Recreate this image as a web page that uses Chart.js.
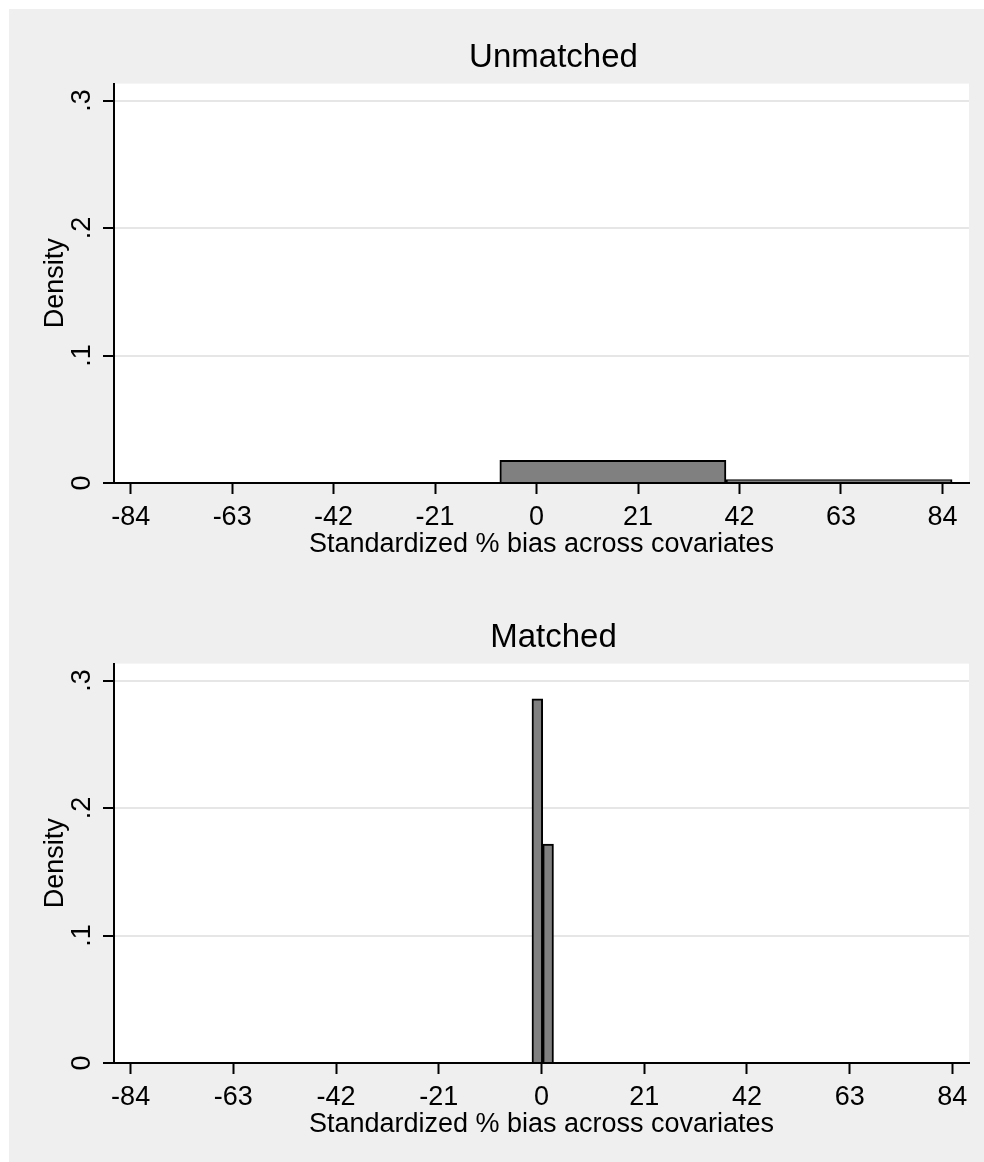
<!DOCTYPE html>
<html>
<head>
<meta charset="utf-8">
<script src="https://cdn.jsdelivr.net/npm/chart.js@4.4.1/dist/chart.umd.min.js"></script>
<style>
  html, body { margin: 0; padding: 0; background: #fff; }
  #page { position: relative; width: 984px; height: 1162px; overflow: hidden; }
  #region { position: absolute; left: 9px; top: 9px; right: 0; bottom: 0; background: #efefef; }
  canvas { position: absolute; left: 0; }
</style>
</head>
<body>
<div id="page">
  <div id="region"></div>
  <canvas id="chart-unmatched" width="984" height="580" style="top:0"></canvas>
  <canvas id="chart-matched" width="984" height="580" style="top:580px"></canvas>
</div>
<script>
// Histogram bins (edges) and densities
const unmatchedEdges = [-7.6, 39.2, 86.0];
const unmatchedDensity = [0.0178, 0.0027];
const matchedEdges = [-1.95, 0.25, 2.45];
const matchedDensity = [0.2856, 0.1717];

// Axis ticks
const xTicks = [-84, -63, -42, -21, 0, 21, 42, 63, 84];
const yTicks = [0, 0.1, 0.2, 0.3];
const yTickLabels = ['0', '.1', '.2', '.3'];

const FONT = '"Liberation Sans", Arial, sans-serif';
Chart.defaults.font.family = FONT;
Chart.defaults.color = '#000';

// white plot region behind the bars
const plotBackground = {
  id: 'plotBackground',
  beforeDraw(chart) {
    const {ctx, chartArea: a} = chart;
    ctx.save();
    ctx.fillStyle = '#fff';
    ctx.fillRect(a.left, a.top, a.right - a.left, a.bottom - a.top);
    ctx.restore();
  }
};

// Stata puts the title a little right of the plot centre
const titleShift = {
  id: 'titleShift',
  afterLayout(chart) {
    let t = chart.titleBlock;
    if (t) {
      t.left += 12;
      t.right += 12;
    }
  }
};

function makeHistogram(id, title, edges, density, xMin, xMax) {
  let bars = density.map((d, i) => ({x: (edges[i] + edges[i + 1]) / 2, y: d}));

  return new Chart(document.getElementById(id), {
    type: 'bar',
    data: {
      datasets: [{
        data: bars,
        backgroundColor: '#808080',
        borderColor: '#000',
        borderWidth: 2,
        barThickness: 'flex',
        barPercentage: 1,
        categoryPercentage: 1
      }]
    },
    options: {
      responsive: false,
      animation: false,
      layout: {padding: {left: 0, right: 15, top: 0, bottom: 0}},
      plugins: {
        legend: {display: false},
        tooltip: {enabled: false},
        title: {
          display: true,
          text: title,
          fullSize: false,
          color: '#000',
          font: {size: 33, weight: 'normal'},
          padding: {top: 38, bottom: 6}
        }
      },
      scales: {
        x: {
          type: 'linear',
          min: xMin,
          max: xMax,
          offset: false,
          z: 1,
          afterBuildTicks: s => { s.ticks = xTicks.map(v => ({value: v})); },
          afterFit: s => { s.height = 97; },
          grid: {drawOnChartArea: false, offset: false, tickLength: 11, tickColor: '#000', tickWidth: 2},
          border: {color: '#000', width: 2},
          ticks: {font: {size: 27}, padding: 7, maxRotation: 0, autoSkip: false, callback: v => String(v)},
          title: {
            display: true,
            text: 'Standardized % bias across covariates',
            font: {size: 27},
            padding: {top: 0, bottom: 19}
          }
        },
        y: {
          min: 0,
          max: 0.3133,
          afterBuildTicks: s => { s.ticks = yTicks.map(v => ({value: v})); },
          afterFit: s => { s.width = 114; },
          grid: {
            color: c => (c.tick && c.tick.value === 0) ? 'rgba(0,0,0,0)' : '#e6e6e6',
            lineWidth: 2,
            tickLength: 11,
            tickColor: '#000',
            tickWidth: 2
          },
          border: {color: '#000', width: 2},
          ticks: {
            font: {size: 27},
            minRotation: 90,
            maxRotation: 90,
            crossAlign: 'center',
            padding: 9,
            callback: (v, i) => yTickLabels[i]
          },
          title: {display: true, text: 'Density', font: {size: 27}, padding: {top: 39, bottom: 0}}
        }
      }
    },
    plugins: [plotBackground, titleShift]
  });
}

makeHistogram('chart-unmatched', 'Unmatched', unmatchedEdges, unmatchedDensity, -87.45, 89.5);
makeHistogram('chart-matched', 'Matched', matchedEdges, matchedDensity, -87.4, 87.4);
</script>
</body>
</html>
